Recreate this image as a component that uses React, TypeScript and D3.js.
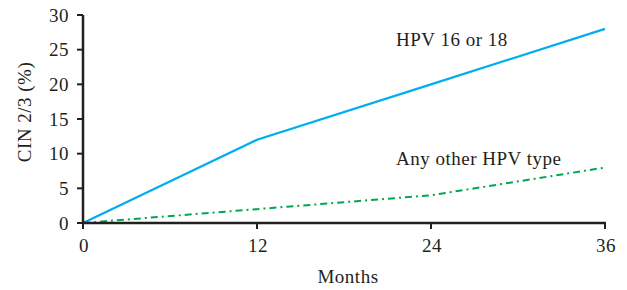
import React from "react";
import * as d3 from "d3";

const months = [0, 12, 24, 36];
const hpv1618 = [0, 12, 20, 28];
const otherHpv = [0, 2, 4, 8];
const yTicks = [0, 5, 10, 15, 20, 25, 30];
const xTicks = [0, 12, 24, 36];

const W = 627;
const H = 290;
const m = { left: 83, right: 22, top: 15, bottom: 67 };

export default function App() {
  const x = d3.scaleLinear().domain([0, 36]).range([m.left, W - m.right]);
  const y = d3.scaleLinear().domain([0, 30]).range([H - m.bottom, m.top]);
  const line = d3
    .line<number>()
    .x((_, i) => x(months[i]))
    .y((d) => y(d));
  const font = "'Liberation Serif', 'DejaVu Serif', serif";
  const axisColor = "#231f20";
  const textColor = "#231f20";
  const fs = 19;
  const ls = 0.5;
  return (
    <svg
      width={W}
      height={H}
      style={{ position: "absolute", left: 0, top: 0, background: "#fff" }}
      fontFamily={font}
    >
      <path d={line(hpv1618) || ""} fill="none" stroke="#00aeef" strokeWidth={2.2} />
      <path
        d={line(otherHpv) || ""}
        fill="none"
        stroke="#00a651"
        strokeWidth={2}
        strokeDasharray="7,4,2,4"
      />
      {/* y axis */}
      <line x1={x(0)} x2={x(0)} y1={y(0) + 1} y2={y(30)} stroke={axisColor} strokeWidth={2.5} />
      {yTicks.map((t) => (
        <g key={"y" + t}>
          <line x1={x(0) - 6} x2={x(0)} y1={y(t)} y2={y(t)} stroke={axisColor} strokeWidth={2} />
          <text x={x(0) - 14} y={y(t)} dy="0.35em" textAnchor="end" fontSize={fs} letterSpacing={ls} fill={textColor}>
            {t}
          </text>
        </g>
      ))}
      {/* x axis */}
      <line x1={x(0) - 1} x2={x(36) + 1} y1={y(0)} y2={y(0)} stroke={axisColor} strokeWidth={2.5} />
      {xTicks.map((t) => (
        <g key={"x" + t}>
          <line x1={x(t)} x2={x(t)} y1={y(0)} y2={y(0) + 6} stroke={axisColor} strokeWidth={2} />
          <text x={x(t) + 1} y={y(0) + 29} textAnchor="middle" fontSize={fs} letterSpacing={ls} fill={textColor}>
            {t}
          </text>
        </g>
      ))}
      <text x={348} y={283} textAnchor="middle" fontSize={fs} letterSpacing={ls} fill={textColor}>
        Months
      </text>
      <text
        transform={`translate(31, ${112}) rotate(-90)`}
        textAnchor="middle"
        fontSize={fs}
        letterSpacing={ls}
        fill={textColor}
      >
        CIN 2/3 (%)
      </text>
      <text x={396} y={46} fontSize={fs} letterSpacing={ls} fill={textColor}>
        HPV 16 or 18
      </text>
      <text x={396} y={165} fontSize={fs} letterSpacing={ls} fill={textColor}>
        Any other HPV type
      </text>
    </svg>
  );
}
